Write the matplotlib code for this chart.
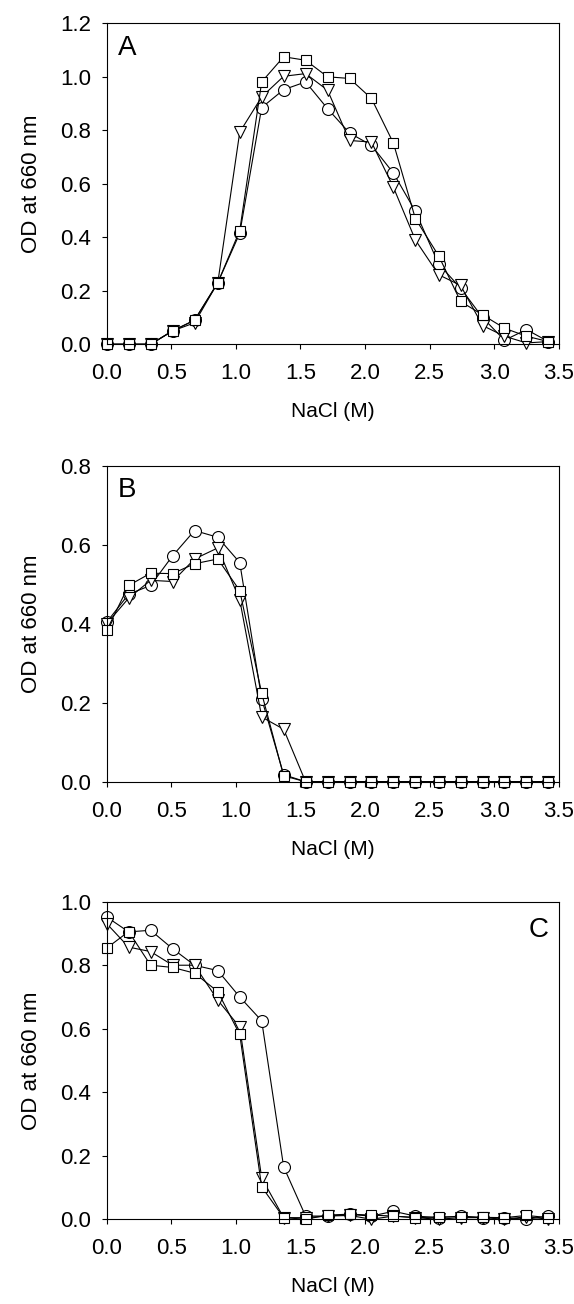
import matplotlib
matplotlib.use("Agg")
import matplotlib.pyplot as plt

plt.rcParams['font.family'] = ['Liberation Sans', 'DejaVu Sans']

# NaCl concentration (M)
nacl = [0.0, 0.17, 0.34, 0.51, 0.68, 0.86, 1.03, 1.20, 1.37, 1.54, 1.71,
        1.88, 2.05, 2.22, 2.39, 2.57, 2.74, 2.91, 3.08, 3.25, 3.42]

# panel A
a_circle = [0.0, 0.0, 0.0, 0.05, 0.09, 0.23, 0.415, 0.885, 0.952, 0.981, 0.881,
            0.79, 0.744, 0.64, 0.497, 0.30, 0.21, 0.10, 0.015, 0.055, 0.01]
a_triangle = [0.0, 0.0, 0.0, 0.05, 0.08, 0.23, 0.793, 0.925, 1.002, 1.012, 0.95,
              0.762, 0.756, 0.587, 0.39, 0.26, 0.22, 0.07, 0.03, 0.005, 0.01]
a_square = [0.0, 0.0, 0.0, 0.05, 0.09, 0.23, 0.425, 0.981, 1.075, 1.062, 1.0,
            0.994, 0.919, 0.752, 0.47, 0.331, 0.16, 0.11, 0.06, 0.03, 0.01]

# panel B
b_circle = [0.404, 0.475, 0.497, 0.572, 0.636, 0.619, 0.555, 0.21, 0.018, 0.0, 0.0,
            0.0, 0.0, 0.0, 0.0, 0.0, 0.0, 0.0, 0.0, 0.0, 0.0]
b_triangle = [0.40, 0.465, 0.51, 0.507, 0.564, 0.592, 0.461, 0.164, 0.133, 0.0, 0.0,
              0.0, 0.0, 0.0, 0.0, 0.0, 0.0, 0.0, 0.0, 0.0, 0.0]
b_square = [0.383, 0.497, 0.528, 0.527, 0.552, 0.564, 0.484, 0.224, 0.015, 0.0, 0.0,
            0.0, 0.0, 0.0, 0.0, 0.0, 0.0, 0.0, 0.0, 0.0, 0.0]

# panel C
c_circle = [0.952, 0.905, 0.91, 0.852, 0.80, 0.783, 0.70, 0.625, 0.165, 0.01, 0.01,
            0.015, 0.01, 0.025, 0.01, 0.005, 0.01, 0.005, 0.005, 0.0, 0.01]
c_triangle = [0.931, 0.857, 0.843, 0.80, 0.80, 0.69, 0.605, 0.13, 0.005, 0.005, 0.01,
              0.012, 0.0, 0.01, 0.005, 0.0, 0.005, 0.005, 0.0, 0.008, 0.0]
c_square = [0.854, 0.906, 0.80, 0.793, 0.775, 0.717, 0.582, 0.102, 0.005, 0.0, 0.013,
            0.016, 0.013, 0.01, 0.005, 0.007, 0.008, 0.006, 0.005, 0.012, 0.005]

panels = [
    ("A", a_circle, a_triangle, a_square, 1.2, [0.0, 0.2, 0.4, 0.6, 0.8, 1.0, 1.2]),
    ("B", b_circle, b_triangle, b_square, 0.8, [0.0, 0.2, 0.4, 0.6, 0.8]),
    ("C", c_circle, c_triangle, c_square, 1.0, [0.0, 0.2, 0.4, 0.6, 0.8, 1.0]),
]
xticks = [0.0, 0.5, 1.0, 1.5, 2.0, 2.5, 3.0, 3.5]

fig = plt.figure(figsize=(5.74, 13.04), dpi=100)
axes_pos = [
    [0.1859, 0.7360, 0.7875, 0.2461],
    [0.1859, 0.4005, 0.7875, 0.2423],
    [0.1859, 0.0650, 0.7875, 0.2435],
]

for pos, (letter, circ, tri, sq, ymax, yticks) in zip(axes_pos, panels):
    ax = fig.add_axes(pos)
    style = dict(color="black", lw=0.8, mfc="white", mec="black", mew=0.8,
                 clip_on=False)
    ax.plot(nacl, circ, marker="o", ms=8.6, **style)
    ax.plot(nacl, tri, marker="v", ms=8.5, **style)
    ax.plot(nacl, sq, marker="s", ms=7.7, **style)

    ax.set_xlim(0, 3.5)
    ax.set_ylim(0, ymax)
    ax.set_xticks(xticks)
    ax.set_yticks(yticks)
    ax.set_xticklabels([f"{v:.1f}" for v in xticks])
    ax.set_yticklabels([f"{v:.1f}" for v in yticks])
    ax.tick_params(direction="out", length=3.6, width=0.8, labelsize=16, pad=7.5)
    ax.tick_params(axis="x", pad=10)
    for s in ax.spines.values():
        s.set_linewidth(0.8)
    ax.set_xlabel("NaCl (M)", fontsize=15, labelpad=13)
    ax.set_ylabel("OD at 660 nm", fontsize=16)
    ax.yaxis.set_label_coords(-0.144, 0.5)

    if letter == "C":
        ax.text(0.978, 0.89, letter, transform=ax.transAxes, fontsize=20,
                ha="right", va="baseline")
    else:
        ax.text(0.025, 0.90, letter, transform=ax.transAxes, fontsize=20,
                ha="left", va="baseline")

fig.savefig("out.png", dpi=100)
